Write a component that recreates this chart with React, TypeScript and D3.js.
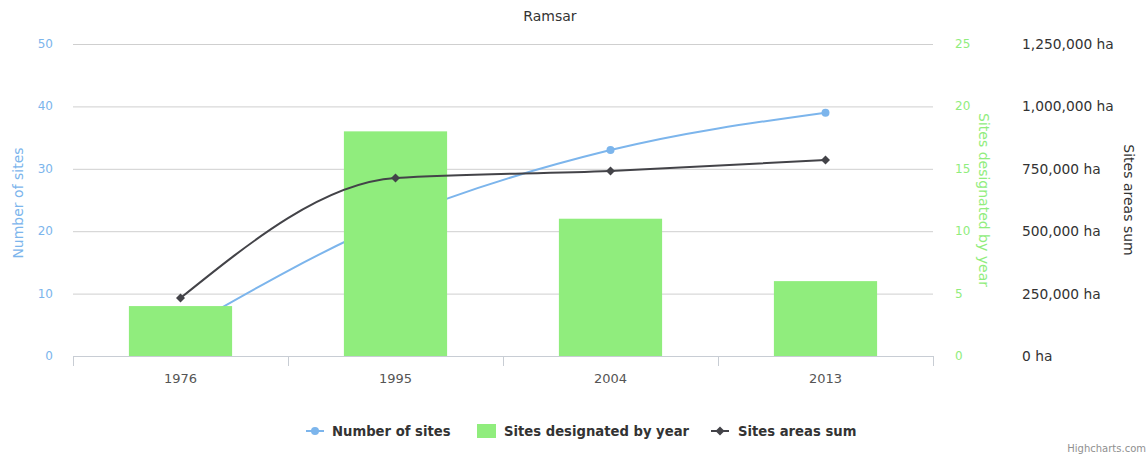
import React from "react";
import * as d3 from "d3";

const title = "Ramsar";
const categories = ["1976", "1995", "2004", "2013"];
const numberOfSites = [4, 22, 33, 39];
const sitesDesignated = [4, 18, 11, 6];
const areasSum = [232000, 713000, 741000, 785000];
const leftTicks = [0, 10, 20, 30, 40, 50];
const midTicks = [0, 5, 10, 15, 20, 25];
const rightTicks = [0, 250000, 500000, 750000, 1000000, 1250000];

const W = 1147;
const H = 454;
const FONT = "'DejaVu Sans', Verdana, sans-serif";
const BLUE = "#7cb5ec";
const GREEN = "#90ed7d";
const DARK = "#434348";

export default function App() {
  const left = 73, right = 933, top = 44, bottom = 356;
  const x = d3.scaleBand<string>().domain(categories).range([left, right]);
  const yL = d3.scaleLinear().domain([0, 50]).range([bottom, top]);
  const yM = d3.scaleLinear().domain([0, 25]).range([bottom, top]);
  const yR = d3.scaleLinear().domain([0, 1250000]).range([bottom, top]);
  const bw = x.bandwidth();
  const barW = bw * 0.6 * 0.8;
  const cx = (c: string) => (x(c) as number) + bw / 2;

  const blueLine = d3
    .line<number>()
    .x((_, i) => cx(categories[i]))
    .y((d) => yL(d))
    .curve(d3.curveMonotoneX)(numberOfSites) as string;
  const darkLine = d3
    .line<number>()
    .x((_, i) => cx(categories[i]))
    .y((d) => yR(d))
    .curve(d3.curveMonotoneX)(areasSum) as string;

  const fmt = d3.format(",");
  const tickXs = [...categories.map((c) => x(c) as number), right];

  return (
    <svg width={W} height={H} style={{ position: "absolute", left: 0, top: 0, fontFamily: FONT }}>
      <rect x={0} y={0} width={W} height={H} fill="#fff" />
      <text x={550} y={21} textAnchor="middle" fontSize={14} fill="#333">{title}</text>

      {leftTicks.map((t) => (
        <line key={"g" + t} x1={left} x2={right} y1={yL(t) + 0.5} y2={yL(t) + 0.5} stroke="#cfcfcf" strokeWidth={1} />
      ))}
      <line x1={left} x2={right} y1={bottom + 0.5} y2={bottom + 0.5} stroke="#c8cdd4" strokeWidth={1} />
      {tickXs.map((tx, i) => (
        <line key={"t" + i} x1={tx + 0.5} x2={tx + 0.5} y1={bottom} y2={bottom + 10} stroke="#c8cdd4" strokeWidth={1} />
      ))}

      <path d={blueLine} fill="none" stroke={BLUE} strokeWidth={2} />
      {numberOfSites.map((v, i) => (
        <circle key={"bc" + i} cx={cx(categories[i])} cy={yL(v)} r={4} fill={BLUE} />
      ))}

      {categories.map((c, i) => (
        <rect key={"b" + c} x={cx(c) - barW / 2} y={yM(sitesDesignated[i])} width={barW} height={bottom - yM(sitesDesignated[i])} fill={GREEN} />
      ))}

      <path d={darkLine} fill="none" stroke={DARK} strokeWidth={2} />
      {areasSum.map((v, i) => {
        const px = cx(categories[i]);
        const py = yR(v);
        return <path key={"dd" + i} d={`M${px},${py - 4.5}L${px + 4.5},${py}L${px},${py + 4.5}L${px - 4.5},${py}Z`} fill={DARK} />;
      })}

      {categories.map((c) => (
        <text key={"xl" + c} x={cx(c)} y={383} textAnchor="middle" fontSize={13} fill="#555">{c}</text>
      ))}

      {leftTicks.map((t) => (
        <text key={"ll" + t} x={53} y={yL(t) + 4} textAnchor="end" fontSize={12} fill={BLUE}>{t}</text>
      ))}
      <text transform={`translate(23,203) rotate(-90)`} textAnchor="middle" fontSize={14} fill={BLUE}>Number of sites</text>

      {midTicks.map((t) => (
        <text key={"ml" + t} x={955} y={yM(t) + 4} textAnchor="start" fontSize={12} fill={GREEN}>{t}</text>
      ))}
      <text transform={`translate(979,200) rotate(90)`} textAnchor="middle" fontSize={14} fill={GREEN}>Sites designated by year</text>

      {rightTicks.map((t) => (
        <text key={"rl" + t} x={1022} y={yR(t) + 5} textAnchor="start" fontSize={13.8} fill="#333">{fmt(t) + " ha"}</text>
      ))}
      <text transform={`translate(1124,200) rotate(90)`} textAnchor="middle" fontSize={14} fill="#333">Sites areas sum</text>

      <g fontSize={13.2} fontWeight="bold" fill="#333">
        <line x1={306} x2={324} y1={431} y2={431} stroke={BLUE} strokeWidth={2} />
        <circle cx={315} cy={431} r={4} fill={BLUE} />
        <text x={332} y={436}>Number of sites</text>
        <rect x={477} y={424} width={19} height={14} fill={GREEN} />
        <text x={504} y={436}>Sites designated by year</text>
        <line x1={711} x2={729} y1={431} y2={431} stroke={DARK} strokeWidth={2} />
        <path d="M720,426.5L724.5,431L720,435.5L715.5,431Z" fill={DARK} />
        <text x={738} y={436}>Sites areas sum</text>
      </g>

      <text x={1146} y={452} textAnchor="end" fontSize={10} fill="#909090">Highcharts.com</text>
    </svg>
  );
}
